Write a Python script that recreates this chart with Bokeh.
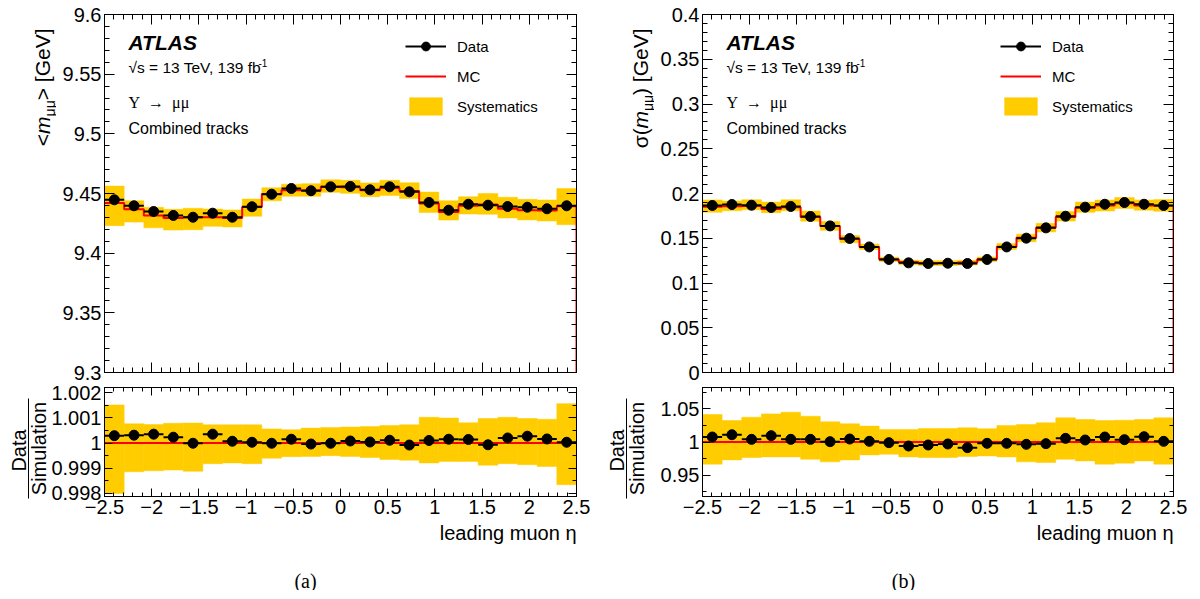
import numpy as np
from bokeh.plotting import figure
from bokeh.models import (Range1d, FixedTicker, CustomJSTickFormatter, LinearAxis, Label,
                          Legend, LegendItem, BoxAnnotation, ColumnDataSource)
from bokeh.layouts import row, column
from bokeh.embed import file_html
from bokeh.resources import INLINE

# ---------------- data ----------------
eta_edges = np.linspace(-2.5, 2.5, 25)

mass_data = [9.4447, 9.4397, 9.4349, 9.4316, 9.4301, 9.4335, 9.4301, 9.4389, 9.4494, 9.4542,
             9.4523, 9.4556, 9.4559, 9.4531, 9.4556, 9.4514, 9.4425, 9.4360, 9.4410, 9.4402,
             9.4391, 9.4385, 9.4372, 9.4397]
mass_ratio = [1.00029, 1.00031, 1.00035, 1.00023, 0.99999, 1.00035, 1.00007, 1.00003, 0.99999, 1.00015,
              0.99996, 0.99999, 1.00008, 1.00004, 1.00011, 0.99992, 1.00010, 1.00015, 1.00014, 0.99993,
              1.00020, 1.00027, 1.00016, 1.00003]
mass_syst_hi = [1.00151, 1.00076, 1.00073, 1.00078, 1.00079, 1.00072, 1.00072, 1.00072, 1.00056, 1.00053,
                1.00059, 1.00061, 1.00063, 1.00065, 1.00069, 1.00072, 1.00102, 1.00099, 1.00080, 1.00097,
                1.00102, 1.00097, 1.00094, 1.00156]
mass_syst_lo = [0.99800, 0.99886, 0.99890, 0.99893, 0.99888, 0.99918, 0.99921, 0.99918, 0.99940, 0.99946,
                0.99947, 0.99950, 0.99947, 0.99943, 0.99935, 0.99932, 0.99921, 0.99927, 0.99927, 0.99912,
                0.99918, 0.99914, 0.99907, 0.99835]

width_data = [0.1866, 0.1877, 0.1869, 0.1844, 0.1855, 0.1743, 0.1638, 0.1497, 0.1403, 0.1263,
              0.1225, 0.1218, 0.1221, 0.1218, 0.1263, 0.1403, 0.1501, 0.1616, 0.1746, 0.1847,
              0.1880, 0.1899, 0.1880, 0.1866]
width_ratio = [1.0075, 1.0109, 1.0040, 1.0095, 1.0040, 1.0040, 1.0005, 1.0045, 1.0010, 0.9990,
               0.9940, 0.9955, 0.9970, 0.9915, 0.9980, 0.9980, 0.9965, 0.9975, 1.0055, 1.0030,
               1.0075, 1.0035, 1.0080, 1.0010]
width_syst_hi = [1.0413, 1.0323, 1.0373, 1.0423, 1.0448, 1.0388, 1.0303, 1.0274, 1.0239, 1.0189,
                 1.0189, 1.0204, 1.0204, 1.0214, 1.0199, 1.0249, 1.0264, 1.0289, 1.0363, 1.0338,
                 1.0323, 1.0328, 1.0338, 1.0363]
width_syst_lo = [0.9667, 0.9731, 0.9766, 0.9776, 0.9776, 0.9741, 0.9701, 0.9731, 0.9806, 0.9816,
                 0.9776, 0.9766, 0.9766, 0.9781, 0.9791, 0.9776, 0.9701, 0.9692, 0.9741, 0.9716,
                 0.9667, 0.9682, 0.9716, 0.9667]

x_major = [-2.5, -2.0, -1.5, -1.0, -0.5, 0.0, 0.5, 1.0, 1.5, 2.0, 2.5]

# ---------------- style ----------------
SANS = "Liberation Sans"
SERIF = "Liberation Serif"
YELLOW = "#ffcc00"
RED = "#ff0000"

FMT = """
if (Math.abs(tick) < 1e-12) { return "0"; }
const s = parseFloat(tick.toFixed(6)).toString();
return s.replace("-", "\u2212");
"""

MAIN_H, RATIO_H = 358, 109
MAIN_TOP, MAIN_BOT = 14, 10
RATIO_TOP, RATIO_BOT = 5, 26
TA_W, TB_W = 56, 48


def ticks(start, stop, step):
    n = int(round((stop - start) / step))
    return [round(start + i * step, 6) for i in range(n + 1)]


def style_axis(ax, major, minor, tin, tmin, labels):
    ax.ticker = FixedTicker(ticks=major, minor_ticks=minor)
    ax.major_tick_in = tin
    ax.major_tick_out = 0
    ax.minor_tick_in = tmin
    ax.minor_tick_out = 0
    ax.axis_line_color = "black"
    ax.major_tick_line_color = "black"
    ax.minor_tick_line_color = "black"
    ax.axis_label = None
    if labels:
        ax.formatter = CustomJSTickFormatter(code=FMT)
        ax.major_label_text_font = SANS
        ax.major_label_text_font_size = "20px"
        ax.major_label_text_color = "black"
        ax.major_label_standoff = 3
    else:
        ax.formatter = CustomJSTickFormatter(code="return '';")
        ax.major_label_text_font_size = "0px"
        ax.major_label_standoff = 0


def make_fig(fw, fh, yr, bl, br, bt, bb, ymaj, ymin_t, tin, tmin, xlabels):
    p = figure(frame_width=fw, frame_height=fh, x_range=Range1d(-2.5, 2.5),
               y_range=Range1d(*yr), output_backend="svg", toolbar_location=None,
               min_border_left=bl, min_border_right=br, min_border_top=bt, min_border_bottom=bb,
               background_fill_color="white", border_fill_color="white")
    p.outline_line_color = "black"
    p.grid.visible = False
    p.add_layout(LinearAxis(), "right")
    p.add_layout(LinearAxis(), "above")
    xmin_t = ticks(-2.5, 2.5, 0.1)
    style_axis(p.below[0], x_major, xmin_t, tin, tmin, xlabels)
    style_axis(p.above[0], x_major, xmin_t, tin, tmin, False)
    style_axis(p.left[0], ymaj, ymin_t, tin, tmin, True)
    style_axis(p.right[0], ymaj, ymin_t, tin, tmin, False)
    return p


def text_fig(w, h):
    t = figure(frame_width=w, frame_height=h, x_range=Range1d(0, w), y_range=Range1d(h, 0),
               x_axis_type=None, y_axis_type=None, output_backend="svg", toolbar_location=None,
               min_border=0, background_fill_color="white", border_fill_color="white")
    t.outline_line_color = None
    t.grid.visible = False
    return t


def lab(p, x, y, text, size, font=SANS, style="normal", angle=0.0, align="left", baseline="middle"):
    p.add_layout(Label(x=x, y=y, text=text, text_font=font, text_font_size=f"{size}px",
                       text_font_style=style, text_color="black", angle=angle,
                       text_align=align, text_baseline=baseline))


def panel(data, ratio, shi, slo, yr, ymaj, ymin_t, ryr, rmaj, rmin, fw, br,
          ylab_pieces, tag, leg_x):
    data = np.array(data)
    ratio = np.array(ratio)
    mc = data / ratio
    lo = eta_edges[:-1]
    hi = eta_edges[1:]
    src = ColumnDataSource(dict(lo=lo, hi=hi, x=(lo + hi) / 2, d=data, mc=mc,
                                blo=mc * np.array(slo), bhi=mc * np.array(shi)))
    # ---- main plot ----
    p = make_fig(fw, MAIN_H, yr, 48, br, MAIN_TOP, MAIN_BOT, ymaj, ymin_t, 10, 5, False)
    band = p.quad(left="lo", right="hi", bottom="blo", top="bhi", source=src,
                  fill_color=YELLOW, line_color=YELLOW, line_width=0.5)
    sx = np.repeat(eta_edges, 2)[1:]
    sy = np.concatenate([np.repeat(mc, 2), [yr[0]]])
    step = p.line(sx, sy, line_color=RED, line_width=2)
    seg = p.segment(x0="lo", x1="hi", y0="d", y1="d", source=src, line_color="black", line_width=2)
    sc = p.scatter(x="x", y="d", source=src, size=10, fill_color="black", line_color="black")
    leg = Legend(items=[LegendItem(label="Data", renderers=[seg, sc]),
                        LegendItem(label="MC", renderers=[step]),
                        LegendItem(label="Systematics", renderers=[band])],
                 location=(leg_x, 255), orientation="vertical",
                 border_line_alpha=0, background_fill_alpha=0, padding=0, margin=0,
                 spacing=8, glyph_width=41, glyph_height=22, label_height=22, label_standoff=11,
                 label_text_font=SANS, label_text_font_size="15px", label_text_color="black",
                 label_text_baseline="middle")
    p.add_layout(leg)

    # in-frame texts, positioned by pixel offsets from the frame's top-left corner
    def fx(px):
        return -2.5 + px * 5.0 / fw

    def fy(py):
        return yr[1] - py * (yr[1] - yr[0]) / MAIN_H

    lab(p, fx(24), fy(28), "ATLAS", 21, style="bold italic")
    lab(p, fx(24), fy(53), "\u221as = 13 TeV, 139 fb", 15.5)
    lab(p, fx(154), fy(48), "-1", 10)
    lab(p, fx(24), fy(88), "\u03a5\u2002\u2192\u2002\u03bc\u03bc", 16, font=SERIF)
    lab(p, fx(24), fy(114), "Combined tracks", 16)

    # ---- y label strip for the main plot ----
    ta = text_fig(TA_W, MAIN_TOP + MAIN_H + MAIN_BOT)
    total = sum(w for (_, _, _, w, _) in ylab_pieces)
    yy = MAIN_TOP + total
    for (t, sz, st, w, xc) in ylab_pieces:
        lab(ta, xc, yy, t, sz, style=st, angle=np.pi / 2)
        yy -= w

    # ---- ratio plot ----
    r = make_fig(fw, RATIO_H, ryr, 56, br, RATIO_TOP, RATIO_BOT, rmaj, rmin, 8, 4, True)
    rsrc = ColumnDataSource(dict(lo=lo, hi=hi, x=(lo + hi) / 2, r=ratio, b=slo, t=shi))
    r.quad(left="lo", right="hi", bottom="b", top="t", source=rsrc,
           fill_color=YELLOW, line_color=YELLOW, line_width=0.5)
    r.line([eta_edges[0], eta_edges[-1]], [1.0, 1.0], line_color=RED, line_width=2)
    r.segment(x0="lo", x1="hi", y0="r", y1="r", source=rsrc, line_color="black", line_width=2)
    r.scatter(x="x", y="r", source=rsrc, size=10, fill_color="black", line_color="black")

    # ratio y label (fraction), positions in pixels from the strip's top-left
    tb = text_fig(TB_W, RATIO_TOP + RATIO_H + RATIO_BOT)
    lab(tb, 18, 63, "Data", 20, angle=np.pi / 2, align="center")
    lab(tb, 38, 61, "Simulation", 20, angle=np.pi / 2, align="center")
    tb.add_layout(BoxAnnotation(left=27.5, right=28.5, top=11, bottom=111,
                                fill_color="black", fill_alpha=1, line_alpha=0))

    # ---- x label and caption strip ----
    tot_w = TA_W + 48 + fw + br
    tc = text_fig(tot_w, 68)
    lab(tc, TA_W + 48 + fw, 10, "leading muon \u03b7", 20, align="right")
    lab(tc, 305, 58, tag, 20, font=SERIF, align="center")

    return column(row(ta, p), row(tb, r), tc)


left_pieces = [("<", 21, "normal", 12.3, 42), ("m", 21, "italic", 17.5, 42),
               ("\u03bc\u03bc", 14, "normal", 16.1, 49), ("> [GeV]", 21, "normal", 71.8, 42)]
right_pieces = [("\u03c3(", 21, "normal", 19.6, 42), ("m", 21, "italic", 17.5, 42),
                ("\u03bc\u03bc", 14, "normal", 16.1, 49), (") [GeV]", 21, "normal", 66.5, 42)]

left = panel(mass_data, mass_ratio, mass_syst_hi, mass_syst_lo, (9.3, 9.6),
             ticks(9.3, 9.6, 0.05), ticks(9.3, 9.6, 0.01),
             (0.99788, 1.0022), ticks(0.998, 1.002, 0.001), ticks(0.9975, 1.0025, 0.0005),
             472, 22, left_pieces, "(a)", 301)
right = panel(width_data, width_ratio, width_syst_hi, width_syst_lo, (0.0, 0.4),
              ticks(0.0, 0.4, 0.05), ticks(0.0, 0.4, 0.01),
              (0.918, 1.082), ticks(0.9, 1.1, 0.05), ticks(0.9, 1.1, 0.025),
              471, 19, right_pieces, "(b)", 298)

layout = row(left, right)
open("out.html", "w").write(file_html(layout, INLINE))
